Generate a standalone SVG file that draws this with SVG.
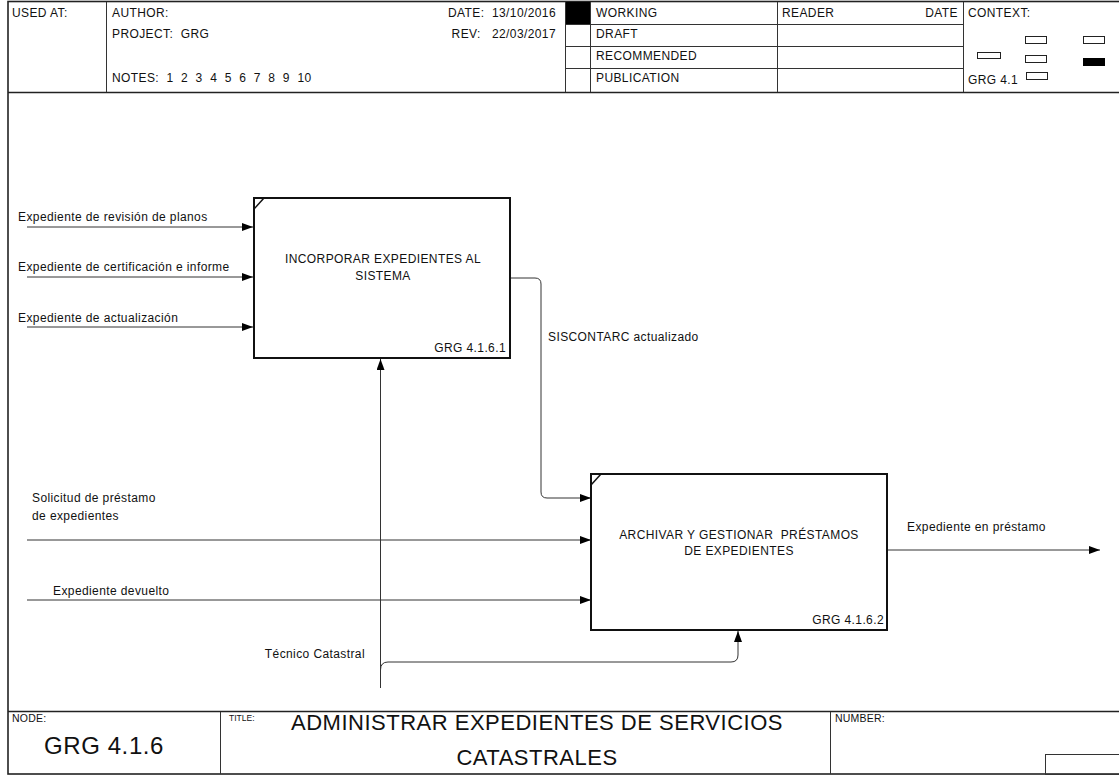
<svg xmlns="http://www.w3.org/2000/svg" width="1119" height="776" viewBox="0 0 1119 776" xml:space="preserve">
<style>
text{font-family:"Liberation Sans",Arial,sans-serif;fill:#111;white-space:pre}
.h{font-size:12px;letter-spacing:0.4px}
.m{font-size:10.5px;letter-spacing:0.2px}
.s{font-size:8.5px}
.big{font-size:22px;letter-spacing:0.5px}
.node{font-size:24px;letter-spacing:0.6px}
.frame{fill:none;stroke:#222;stroke-width:1.6}
.grid{stroke:#333;stroke-width:1;fill:none}
.box{fill:#fff;stroke:#111;stroke-width:2}
.conn{fill:none;stroke:#333;stroke-width:1}
.ctx{fill:#fff;stroke:#222;stroke-width:1}
</style>
<defs>
<marker id="ah" markerUnits="userSpaceOnUse" markerWidth="11" markerHeight="8" refX="11" refY="4" orient="auto">
<path d="M0,0 L11,4 L0,8 z" fill="#000"/>
</marker>
</defs>
<rect width="1119" height="776" fill="#fff"/>
<g id="frame">
<rect class="frame" x="8" y="1.5" width="1115" height="772.5"/>
<line class="frame" x1="8" y1="92.5" x2="1119" y2="92.5"/>
<line class="frame" x1="8" y1="711.5" x2="1119" y2="711.5"/>
</g>
<g id="header">
<line class="grid" x1="106.5" y1="2" x2="106.5" y2="92"/>
<line class="grid" x1="565.5" y1="2" x2="565.5" y2="92"/>
<line class="grid" x1="590.5" y1="2" x2="590.5" y2="92"/>
<line class="grid" x1="777.5" y1="2" x2="777.5" y2="92"/>
<line class="grid" x1="963.5" y1="2" x2="963.5" y2="92"/>
<line class="grid" x1="565" y1="24.5" x2="963" y2="24.5"/>
<line class="grid" x1="565" y1="46.5" x2="963" y2="46.5"/>
<line class="grid" x1="565" y1="68.5" x2="963" y2="68.5"/>
<rect x="566" y="2" width="24" height="22" fill="#000"/>
<text class="h" x="12" y="17">USED AT:</text>
<text class="h" x="112" y="17">AUTHOR:</text>
<text class="h" x="112" y="38">PROJECT:  GRG</text>
<text class="h" x="112" y="82">NOTES:  1  2  3  4  5  6  7  8  9  10</text>
<text class="h" x="556" y="17" text-anchor="end">DATE:  13/10/2016</text>
<text class="h" x="556" y="38" text-anchor="end">REV:   22/03/2017</text>
<text class="h" x="596" y="17">WORKING</text>
<text class="h" x="596" y="38">DRAFT</text>
<text class="h" x="596" y="60">RECOMMENDED</text>
<text class="h" x="596" y="82">PUBLICATION</text>
<text class="h" x="782" y="17">READER</text>
<text class="h" x="958" y="17" text-anchor="end">DATE</text>
<text class="h" x="968" y="17">CONTEXT:</text>
<rect class="ctx" x="1025.5" y="36.5" width="21" height="7"/>
<rect class="ctx" x="1083.5" y="36.5" width="21" height="7"/>
<rect class="ctx" x="977.5" y="52.5" width="23" height="6"/>
<rect class="ctx" x="1025.5" y="55.5" width="21" height="7"/>
<rect x="1083" y="58" width="22" height="8" fill="#000"/>
<rect class="ctx" x="1026.5" y="72.5" width="21" height="7"/>
<text class="h" x="968" y="84">GRG 4.1</text>
</g>
<g id="connectors">
<path class="conn" d="M27,227 H253" marker-end="url(#ah)"/>
<path class="conn" d="M27,277 H253" marker-end="url(#ah)"/>
<path class="conn" d="M27,327 H253" marker-end="url(#ah)"/>
<path class="conn" d="M510,278 H535 Q541,278 541,284 V492 Q541,498 547,498 H591" marker-end="url(#ah)"/>
<path class="conn" d="M27,540 H591" marker-end="url(#ah)"/>
<path class="conn" d="M27,600 H591" marker-end="url(#ah)"/>
<path class="conn" d="M380.5,688 V359" marker-end="url(#ah)"/>
<path class="conn" d="M380.5,670 Q380.5,662 388,662 H731 Q738,662 738,655 V631" marker-end="url(#ah)"/>
<path class="conn" d="M887,550 H1100" marker-end="url(#ah)"/>
<text class="h" x="18" y="221">Expediente de revisión de planos</text>
<text class="h" x="18" y="271">Expediente de certificación e informe</text>
<text class="h" x="18" y="322">Expediente de actualización</text>
<text class="h" x="548" y="341">SISCONTARC actualizado</text>
<text class="h" x="32" y="502">Solicitud de préstamo</text>
<text class="h" x="32" y="520">de expedientes</text>
<text class="h" x="53" y="595">Expediente devuelto</text>
<text class="h" x="365" y="658" text-anchor="end">Técnico Catastral</text>
<text class="h" x="907" y="531">Expediente en préstamo</text>
</g>
<g id="node1">
<rect class="box" x="254" y="198" width="256" height="160"/>
<line x1="254" y1="209" x2="264" y2="198" stroke="#111" stroke-width="1.5"/>
<text class="h" x="383" y="263" text-anchor="middle">INCORPORAR EXPEDIENTES AL</text>
<text class="h" x="383" y="280" text-anchor="middle">SISTEMA</text>
<text class="h" x="506" y="352" text-anchor="end">GRG 4.1.6.1</text>
</g>
<g id="node2">
<rect class="box" x="591" y="474" width="296" height="156"/>
<line x1="591" y1="485" x2="601" y2="474" stroke="#111" stroke-width="1.5"/>
<text class="h" x="739" y="539" text-anchor="middle">ARCHIVAR Y GESTIONAR  PRÉSTAMOS</text>
<text class="h" x="739" y="555" text-anchor="middle">DE EXPEDIENTES</text>
<text class="h" x="884" y="624" text-anchor="end">GRG 4.1.6.2</text>
</g>
<g id="footer">
<line class="grid" x1="220.5" y1="712" x2="220.5" y2="774"/>
<line class="grid" x1="830.5" y1="712" x2="830.5" y2="774"/>
<rect class="grid" x="1045.5" y="754.5" width="80" height="20"/>
<text class="m" x="12" y="722">NODE:</text>
<text class="node" x="104" y="754" text-anchor="middle">GRG 4.1.6</text>
<text class="s" x="229" y="721">TITLE:</text>
<text class="big" x="537" y="730" text-anchor="middle">ADMINISTRAR EXPEDIENTES DE SERVICIOS</text>
<text class="big" x="537" y="765" text-anchor="middle">CATASTRALES</text>
<text class="m" x="835" y="722">NUMBER:</text>
</g>
</svg>
